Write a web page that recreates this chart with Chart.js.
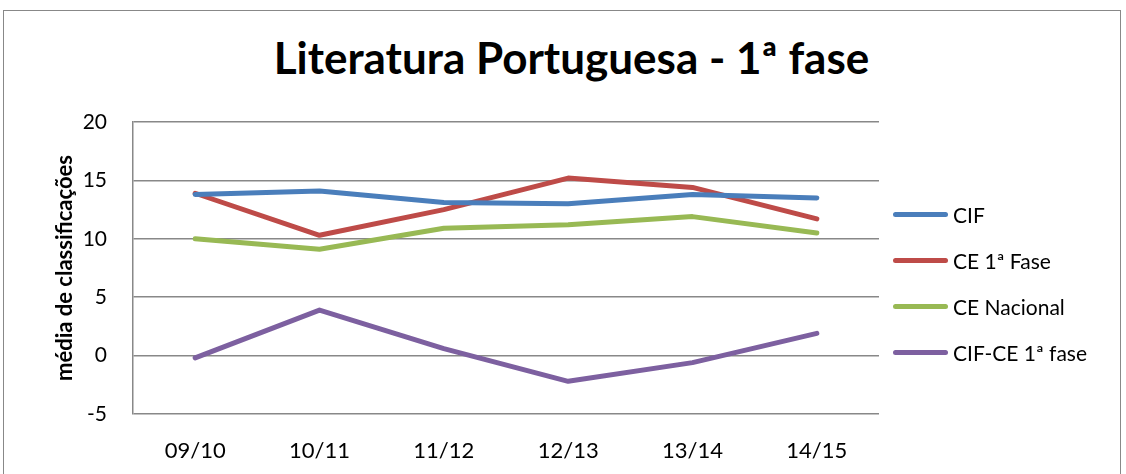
<!DOCTYPE html>
<html>
<head>
<meta charset="utf-8">
<script src="https://cdn.jsdelivr.net/npm/chart.js@4.4.1/dist/chart.umd.min.js"></script>
<style>
    html, body { margin: 0; padding: 0; background: #fff; }
    #wrap { position: relative; width: 1126px; height: 474px; overflow: hidden; font-family: Lato, sans-serif; }
    #frame { position: absolute; left: 3px; top: 10px; width: 1118px; height: 500px; border: 1.5px solid #888; box-sizing: border-box; }
    #chart-title { position: absolute; left: 0; width: 1143px; top: 31px; text-align: center; font-weight: 700; font-size: 44px; line-height: 1.2; color: #000; }
    #a-chart { position: absolute; left: 0; top: 0; }
    #legend { position: absolute; left: 893px; top: 202px; }
    .lg-row { display: flex; align-items: center; height: 24px; margin-bottom: 22px; }
    .lg-line { width: 55px; height: 5px; border-radius: 3px; margin-right: 5px; }
    .lg-text { font-size: 21px; color: #000; white-space: nowrap; }
</style>
</head>
<body>
<div id="wrap">
    <div id="frame"></div>
    <div id="chart-title">Literatura Portuguesa - 1ª fase</div>
    <canvas id="a-chart" width="1126" height="474"></canvas>
    <div id="legend"></div>
</div>
<script>
// anos lectivos
const years = ['09/10', '10/11', '11/12', '12/13', '13/14', '14/15'];
// médias
const cif = [13.8, 14.1, 13.1, 13.0, 13.8, 13.5];
const ce1Fase = [13.9, 10.3, 12.5, 15.2, 14.4, 11.7];
const ceNacional = [10.0, 9.1, 10.9, 11.2, 11.9, 10.5];
const cifMinusCe = [-0.2, 3.9, 0.6, -2.2, -0.6, 1.9];
const yMin = -5;
const yMax = 20;
const yStep = 5;

const seriesNames = ['CIF', 'CE 1ª Fase', 'CE Nacional', 'CIF-CE 1ª fase'];
const seriesColors = ['#4a7ebb', '#be4b48', '#98b954', '#7d60a0'];
const seriesData = [cif, ce1Fase, ceNacional, cifMinusCe];

const gridColor = '#888';

function make_dataset(i) {
    return {
        label: seriesNames[i],
        data: seriesData[i],
        borderColor: seriesColors[i],
        backgroundColor: seriesColors[i],
        borderWidth: 5,
        borderCapStyle: 'round',
        borderJoinStyle: 'round',
        pointRadius: 0,
        tension: 0,
        fill: false
    };
}

function build_legend(chart) {
    let box = document.getElementById('legend');
    let html = '';
    for (let ds of chart.data.datasets) {
        html += `<div class="lg-row"><span class="lg-line" style="background:${ds.borderColor};"></span><span class="lg-text">${ds.label}</span></div>`;
    }
    box.innerHTML = html;
}

let ctx = document.getElementById('a-chart');
let chart = new Chart(ctx, {
    type: 'line',
    data: {
        labels: years,
        datasets: [0, 1, 2, 3].map(make_dataset)
    },
    options: {
        responsive: false,
        animation: false,
        devicePixelRatio: 1,
        layout: { padding: { top: 122, left: 10, right: 247, bottom: 11 } },
        scales: {
            x: {
                offset: true,
                grid: { display: false, drawTicks: false },
                border: { display: false },
                ticks: { color: '#000', padding: 24, font: { family: 'Lato', size: 22 } },
                afterFit: (scale) => { scale.height = 49; }
            },
            y: {
                min: yMin,
                max: yMax,
                ticks: { stepSize: yStep, color: '#000', padding: 26, font: { family: 'Lato', size: 21 } },
                grid: { color: gridColor, lineWidth: 1.5, drawTicks: false },
                border: { display: true, color: gridColor, width: 1.5 },
                title: {
                    display: true,
                    text: 'média de classificações',
                    color: '#000',
                    padding: { top: 42, bottom: 6 },
                    font: { family: 'Lato', size: 22, weight: 700 }
                },
                afterFit: (scale) => { scale.width = 123; }
            }
        },
        plugins: {
            legend: { display: false },
            title: { display: false },
            tooltip: { enabled: false }
        }
    }
});
build_legend(chart);
</script>
</body>
</html>
